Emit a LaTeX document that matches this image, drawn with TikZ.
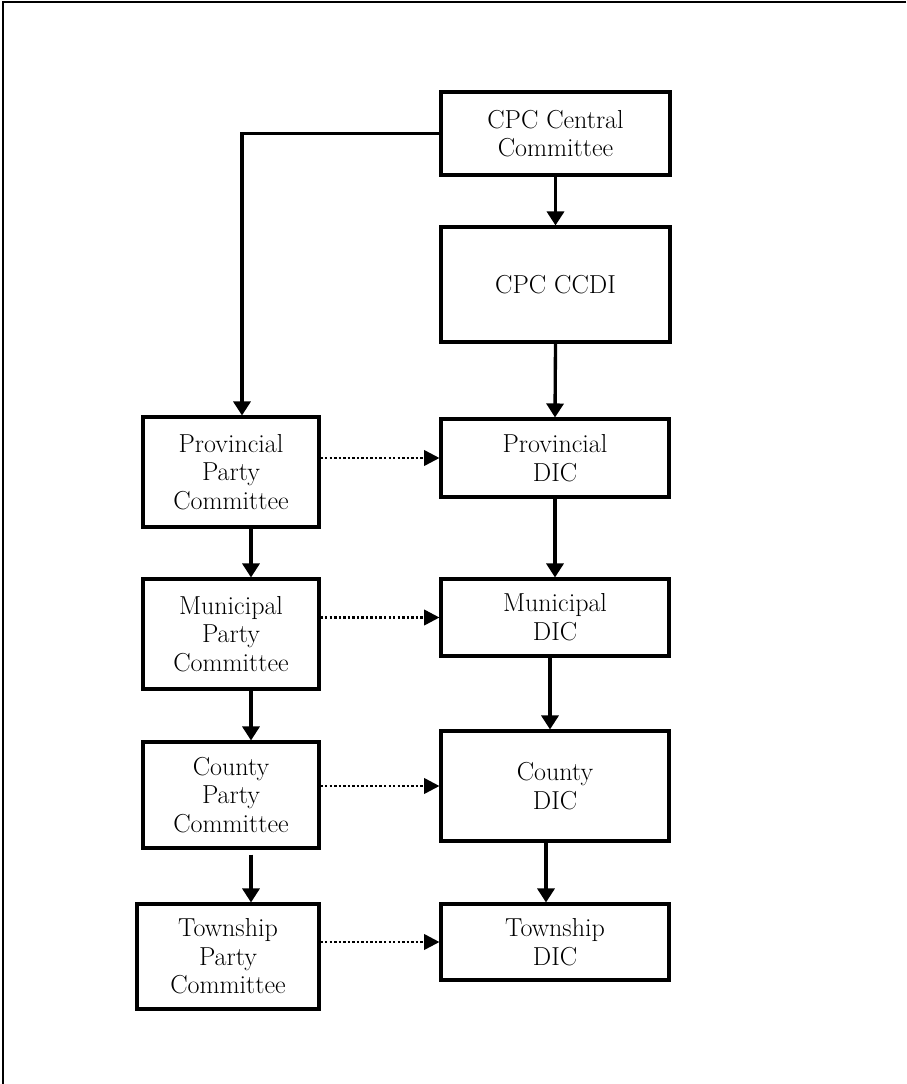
\documentclass[tikz,border=0pt]{standalone}
\usepackage{tikz}
\usetikzlibrary{arrows.meta, calc}
\tikzstyle{box} = [draw, line width=2.3pt, align=center, inner sep=0pt, font=\fontsize{19.5}{21.5}\selectfont]
\tikzstyle{arrow} = [line width=2.5pt, -{Triangle[length=10.5pt,width=12.75pt]}]
\tikzstyle{dotarrow} = [line width=2pt, dash pattern=on 1.8pt off 1.6pt, -{Triangle[length=11.5pt,width=11.5pt]}]
\tikzstyle{frame} = [line width=1.8pt]

\begin{document}
\begin{tikzpicture}[x=0.75pt, y=-0.75pt]
        \useasboundingbox (0,0) rectangle (906,1084);
        \draw[frame] (906,2) -- (3,2) -- (3,1084);

        % DIC column
        \node at (555.5,133.5) [box, minimum width=171.75pt, minimum height=62.25pt](central) {CPC Central\\Committee};
        \node at (555.5,284.5) [box, minimum width=171.75pt, minimum height=86.25pt](ccdi) {CPC CCDI};
        \node at (555,458) [box, minimum width=171pt, minimum height=58.5pt](provdic) {Provincial\\DIC};
        \node at (555,617.5) [box, minimum width=171pt, minimum height=57.75pt](munidic) {Municipal\\DIC};
        \node at (555,786) [box, minimum width=171pt, minimum height=82.5pt](countydic) {County\\DIC};
        \node at (555,942) [box, minimum width=171pt, minimum height=57pt](towndic) {Township\\DIC};

        % party committee column
        \node at (231,472) [box, minimum width=132pt, minimum height=82.5pt](provparty) {Provincial\\Party\\Committee};
        \node at (231,634) [box, minimum width=132pt, minimum height=82.5pt](muniparty) {Municipal\\Party\\Committee};
        \node at (231,795) [box, minimum width=132pt, minimum height=79.5pt](countyparty) {County\\Party\\Committee};
        \node at (228,956.5) [box, minimum width=136.5pt, minimum height=78.75pt](townparty) {Township\\Party\\Committee};

        \draw[arrow] (central.west) -| ([xshift=8.25pt]provparty.north);
        \draw[arrow] (central.south) -- (ccdi.north);
        \draw[arrow] (ccdi.south) -- (provdic.north);
        \draw[arrow] (provdic.south) -- (munidic.north);
        \draw[arrow] ([xshift=-3.75pt]munidic.south) -- ([xshift=-3.75pt]countydic.north);
        \draw[arrow] ([xshift=-6.75pt]countydic.south) -- ([xshift=-6.75pt]towndic.north);

        \draw[arrow] ([xshift=15pt]provparty.south) -- ([xshift=15pt]provparty.south |- muniparty.north);
        \draw[arrow] ([xshift=15pt]muniparty.south) -- ([xshift=15pt]muniparty.south |- countyparty.north);
        \draw[arrow] ([xshift=15pt,yshift=-3.75pt]countyparty.south) -- ([xshift=15pt]countyparty.south |- townparty.north);

        \draw[dotarrow] (provparty.east |- provdic.west) -- (provdic.west);
        \draw[dotarrow] (muniparty.east |- munidic.west) -- (munidic.west);
        \draw[dotarrow] (countyparty.east |- countydic.west) -- (countydic.west);
        \draw[dotarrow] (townparty.east |- towndic.west) -- (towndic.west);
    \end{tikzpicture}
\end{document}
